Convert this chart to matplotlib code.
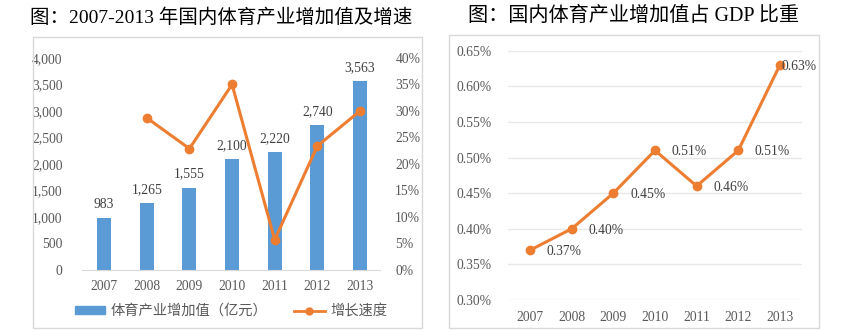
import matplotlib.pyplot as plt
from matplotlib.patches import Rectangle
from matplotlib.lines import Line2D
from matplotlib.ticker import FuncFormatter

years = ['2007', '2008', '2009', '2010', '2011', '2012', '2013']
added_value = [983, 1265, 1555, 2100, 2220, 2740, 3563]
growth_years = ['2008', '2009', '2010', '2011', '2012', '2013']
growth_rate = [28.7, 22.9, 35.0, 5.7, 23.4, 30.0]
gdp_share = [0.37, 0.40, 0.45, 0.51, 0.46, 0.51, 0.63]

BLUE = '#5B9BD5'
ORANGE = '#ED7D31'
GREY = '#595959'
FONT = ['Liberation Serif', 'Noto Sans CJK SC']
TS = 9.8

plt.rcParams['font.family'] = FONT

fig = plt.figure(figsize=(8.6, 3.32), dpi=100)

# frames around the two charts
for x0, y0, x1, y1 in [(33, 37, 422, 328), (449, 35, 819, 328)]:
    fig.add_artist(Rectangle((x0 / 860, 1 - y1 / 332), (x1 - x0) / 860, (y1 - y0) / 332,
                             transform=fig.transFigure, fill=False, ec='#D9D9D9', lw=1))

fig.text(221 / 860, 1 - 18 / 332, '图：2007-2013 年国内体育产业增加值及增速',
         ha='center', va='center', fontsize=14, color='black')
fig.text(634 / 860, 1 - 16 / 332, '图：国内体育产业增加值占 GDP 比重',
         ha='center', va='center', fontsize=14.5, color='black')

# left chart
ax = fig.add_axes([82 / 860, 62 / 332, 298 / 860, 212 / 332])
x = list(range(len(years)))
ax.bar(x, added_value, width=0.33, color=BLUE)
for xi, v in zip(x, added_value):
    ax.annotate(f'{v:,}', (xi, v), xytext=(0, 5), textcoords='offset points',
                ha='center', va='bottom', fontsize=TS, color='#404040')
ax.set_ylim(0, 4000)
ax.set_xlim(-0.52, 6.47)
ax.set_yticks(range(0, 4001, 500))
ax.yaxis.set_major_formatter(FuncFormatter(lambda v, p: f'{int(v):,}'))
ax.set_xticks(x)
ax.set_xticklabels(years)
for s in ['top', 'right', 'left']:
    ax.spines[s].set_visible(False)
ax.spines['bottom'].set_color('#D9D9D9')
ax.tick_params(length=0, labelsize=TS, colors=GREY, pad=7)
ax.tick_params(axis='y', pad=14)

ax2 = ax.twinx()
gx = [years.index(y) for y in growth_years]
ax2.plot(gx, growth_rate, color=ORANGE, lw=2.2, marker='o', ms=6)
ax2.set_ylim(0, 40)
ax2.set_yticks(range(0, 41, 5))
ax2.yaxis.set_major_formatter(FuncFormatter(lambda v, p: f'{int(v)}%'))
for s in ax2.spines.values():
    s.set_visible(False)
ax2.tick_params(length=0, labelsize=TS, colors=GREY, pad=11)

handles = [Rectangle((0, 0), 1, 1, color=BLUE),
           Line2D([], [], color=ORANGE, lw=2, marker='o', ms=5)]
fig.legend(handles, ['体育产业增加值（亿元）', '增长速度'],
           loc='center', bbox_to_anchor=(231 / 860, 1 - 311 / 332), ncol=2,
           frameon=False, labelcolor=GREY, handlelength=2.1,
           handleheight=0.45, columnspacing=1.9, handletextpad=0.4,
           prop={'family': ['Noto Sans CJK SC'], 'size': 10.3})

# right chart
bx = fig.add_axes([508 / 860, 32 / 332, 294 / 860, 249.3 / 332])
bx.plot(x, gdp_share, color=ORANGE, lw=2.2, marker='o', ms=6, zorder=3)
for xi, v in zip(x, gdp_share):
    dx = 1 if xi == len(x) - 1 else 12
    bx.annotate(f'{v:.2f}%', (xi, v), xytext=(dx, -1), textcoords='offset points',
                ha='left', va='center', fontsize=TS, color='#404040')
bx.set_ylim(0.30, 0.65)
bx.set_xlim(-0.53, 6.53)
bx.set_yticks([0.30, 0.35, 0.40, 0.45, 0.50, 0.55, 0.60, 0.65])
bx.yaxis.set_major_formatter(FuncFormatter(lambda v, p: f'{v:.2f}%'))
bx.set_xticks(x)
bx.set_xticklabels(years)
bx.grid(axis='y', color='#E8E8E8', lw=1)
bx.set_axisbelow(True)
for s in bx.spines.values():
    s.set_visible(False)
bx.tick_params(length=0, labelsize=TS, colors=GREY, pad=8)
bx.tick_params(axis='y', pad=12)

fig.savefig('out.png', dpi=100)
